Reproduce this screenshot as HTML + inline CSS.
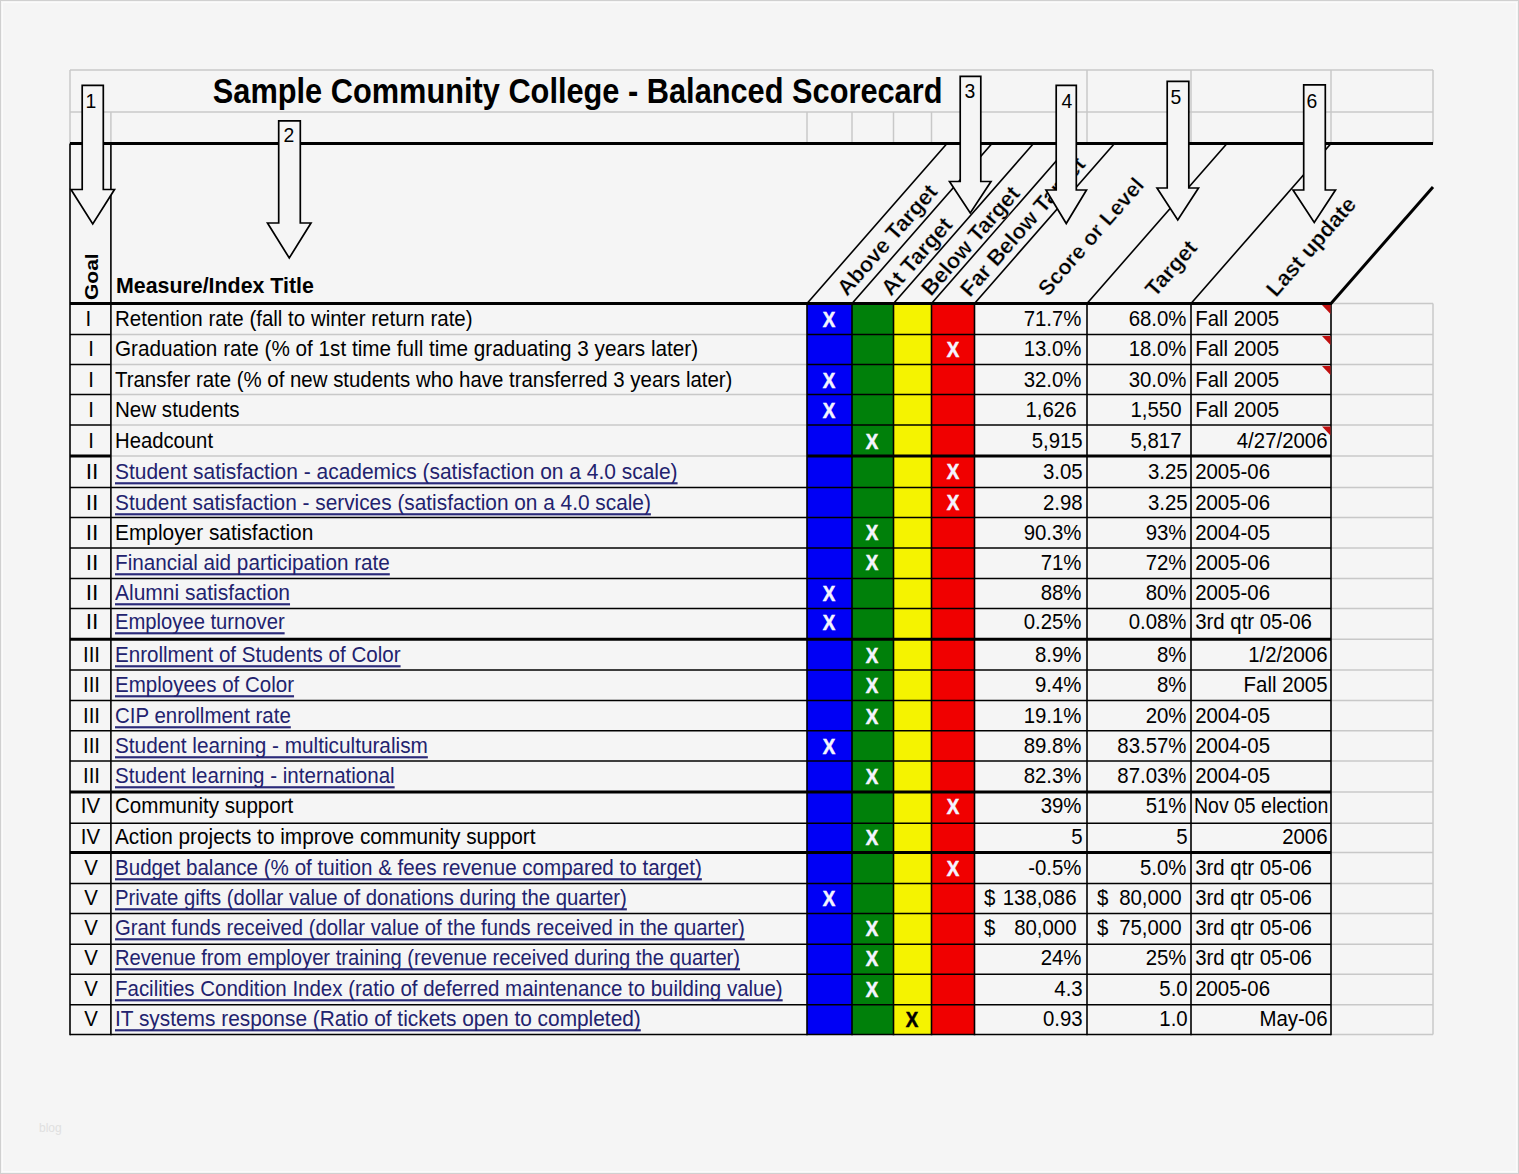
<!DOCTYPE html>
<html><head><meta charset="utf-8"><style>
html,body{margin:0;padding:0;}
body{width:1519px;height:1174px;background:#f5f5f5;position:relative;overflow:hidden;font-family:"Liberation Sans",sans-serif;}
.t{position:absolute;white-space:pre;line-height:normal;}
svg{position:absolute;left:0;top:0;}
.frame{position:absolute;left:0;top:0;width:1517px;height:1172px;border:1px solid #d0d0d0;}
.frame2{position:absolute;left:2px;top:2px;width:1513px;height:1168px;border:1px solid #fbfbfb;}
.wm{position:absolute;left:39px;top:1121px;font-size:12px;color:#e0e0e0;}
</style></head><body>
<div class="frame"></div><div class="frame2"></div>
<svg width="1519" height="1174" viewBox="0 0 1519 1174"><rect x="807" y="303.5" width="45" height="731.0" fill="#0000f5"/><rect x="852" y="303.5" width="41.5" height="731.0" fill="#00800a"/><rect x="893.5" y="303.5" width="38.0" height="731.0" fill="#f5f300"/><rect x="931.5" y="303.5" width="43.0" height="731.0" fill="#f00000"/><line x1="70" y1="70" x2="1433" y2="70" stroke="#c8c8c8" stroke-width="1.5"/><line x1="70" y1="112" x2="1433" y2="112" stroke="#c8c8c8" stroke-width="1.5"/><line x1="70" y1="70" x2="70" y2="143.5" stroke="#c8c8c8" stroke-width="1.5"/><line x1="110.9" y1="112" x2="110.9" y2="143.5" stroke="#c8c8c8" stroke-width="1.5"/><line x1="807" y1="112" x2="807" y2="143.5" stroke="#c8c8c8" stroke-width="1.5"/><line x1="852" y1="112" x2="852" y2="143.5" stroke="#c8c8c8" stroke-width="1.5"/><line x1="893.5" y1="112" x2="893.5" y2="143.5" stroke="#c8c8c8" stroke-width="1.5"/><line x1="931.5" y1="112" x2="931.5" y2="143.5" stroke="#c8c8c8" stroke-width="1.5"/><line x1="974.5" y1="112" x2="974.5" y2="143.5" stroke="#c8c8c8" stroke-width="1.5"/><line x1="1087" y1="70" x2="1087" y2="143.5" stroke="#c8c8c8" stroke-width="1.5"/><line x1="1191" y1="70" x2="1191" y2="143.5" stroke="#c8c8c8" stroke-width="1.5"/><line x1="1331" y1="70" x2="1331" y2="143.5" stroke="#c8c8c8" stroke-width="1.5"/><line x1="1433" y1="70" x2="1433" y2="143.5" stroke="#c8c8c8" stroke-width="1.5"/><line x1="1433" y1="303.5" x2="1433" y2="1034.5" stroke="#c8c8c8" stroke-width="1.5"/><line x1="1331" y1="303.5" x2="1433" y2="303.5" stroke="#c8c8c8" stroke-width="1.5"/><line x1="1331" y1="334.5" x2="1433" y2="334.5" stroke="#c8c8c8" stroke-width="1.5"/><line x1="1331" y1="364.5" x2="1433" y2="364.5" stroke="#c8c8c8" stroke-width="1.5"/><line x1="1331" y1="394.5" x2="1433" y2="394.5" stroke="#c8c8c8" stroke-width="1.5"/><line x1="1331" y1="425" x2="1433" y2="425" stroke="#c8c8c8" stroke-width="1.5"/><line x1="1331" y1="456" x2="1433" y2="456" stroke="#c8c8c8" stroke-width="1.5"/><line x1="1331" y1="487.5" x2="1433" y2="487.5" stroke="#c8c8c8" stroke-width="1.5"/><line x1="1331" y1="517.5" x2="1433" y2="517.5" stroke="#c8c8c8" stroke-width="1.5"/><line x1="1331" y1="548" x2="1433" y2="548" stroke="#c8c8c8" stroke-width="1.5"/><line x1="1331" y1="578.5" x2="1433" y2="578.5" stroke="#c8c8c8" stroke-width="1.5"/><line x1="1331" y1="608.5" x2="1433" y2="608.5" stroke="#c8c8c8" stroke-width="1.5"/><line x1="1331" y1="639.3" x2="1433" y2="639.3" stroke="#c8c8c8" stroke-width="1.5"/><line x1="1331" y1="670" x2="1433" y2="670" stroke="#c8c8c8" stroke-width="1.5"/><line x1="1331" y1="700.5" x2="1433" y2="700.5" stroke="#c8c8c8" stroke-width="1.5"/><line x1="1331" y1="730.8" x2="1433" y2="730.8" stroke="#c8c8c8" stroke-width="1.5"/><line x1="1331" y1="761" x2="1433" y2="761" stroke="#c8c8c8" stroke-width="1.5"/><line x1="1331" y1="792" x2="1433" y2="792" stroke="#c8c8c8" stroke-width="1.5"/><line x1="1331" y1="823.2" x2="1433" y2="823.2" stroke="#c8c8c8" stroke-width="1.5"/><line x1="1331" y1="852.5" x2="1433" y2="852.5" stroke="#c8c8c8" stroke-width="1.5"/><line x1="1331" y1="883.5" x2="1433" y2="883.5" stroke="#c8c8c8" stroke-width="1.5"/><line x1="1331" y1="913.5" x2="1433" y2="913.5" stroke="#c8c8c8" stroke-width="1.5"/><line x1="1331" y1="944.2" x2="1433" y2="944.2" stroke="#c8c8c8" stroke-width="1.5"/><line x1="1331" y1="974.3" x2="1433" y2="974.3" stroke="#c8c8c8" stroke-width="1.5"/><line x1="1331" y1="1004.7" x2="1433" y2="1004.7" stroke="#c8c8c8" stroke-width="1.5"/><line x1="1331" y1="1034.5" x2="1433" y2="1034.5" stroke="#c8c8c8" stroke-width="1.5"/><line x1="70" y1="334.5" x2="110.9" y2="334.5" stroke="#000" stroke-width="1.6"/><line x1="110.9" y1="334.5" x2="807" y2="334.5" stroke="#c8c8c8" stroke-width="1.5"/><line x1="807" y1="334.5" x2="1331" y2="334.5" stroke="#000" stroke-width="1.6"/><line x1="70" y1="364.5" x2="110.9" y2="364.5" stroke="#000" stroke-width="1.6"/><line x1="110.9" y1="364.5" x2="807" y2="364.5" stroke="#c8c8c8" stroke-width="1.5"/><line x1="807" y1="364.5" x2="1331" y2="364.5" stroke="#000" stroke-width="1.6"/><line x1="70" y1="394.5" x2="110.9" y2="394.5" stroke="#000" stroke-width="1.6"/><line x1="110.9" y1="394.5" x2="807" y2="394.5" stroke="#c8c8c8" stroke-width="1.5"/><line x1="807" y1="394.5" x2="1331" y2="394.5" stroke="#000" stroke-width="1.6"/><line x1="70" y1="425" x2="110.9" y2="425" stroke="#000" stroke-width="1.6"/><line x1="110.9" y1="425" x2="807" y2="425" stroke="#c8c8c8" stroke-width="1.5"/><line x1="807" y1="425" x2="1331" y2="425" stroke="#000" stroke-width="1.6"/><line x1="70" y1="456" x2="110.9" y2="456" stroke="#000" stroke-width="3"/><line x1="110.9" y1="456" x2="807" y2="456" stroke="#c8c8c8" stroke-width="1.5"/><line x1="807" y1="456" x2="1331" y2="456" stroke="#000" stroke-width="3"/><line x1="70" y1="487.5" x2="110.9" y2="487.5" stroke="#000" stroke-width="1.6"/><line x1="110.9" y1="487.5" x2="807" y2="487.5" stroke="#000" stroke-width="1.6"/><line x1="807" y1="487.5" x2="1331" y2="487.5" stroke="#000" stroke-width="1.6"/><line x1="70" y1="517.5" x2="110.9" y2="517.5" stroke="#000" stroke-width="1.6"/><line x1="110.9" y1="517.5" x2="807" y2="517.5" stroke="#000" stroke-width="1.6"/><line x1="807" y1="517.5" x2="1331" y2="517.5" stroke="#000" stroke-width="1.6"/><line x1="70" y1="548" x2="110.9" y2="548" stroke="#000" stroke-width="1.6"/><line x1="110.9" y1="548" x2="807" y2="548" stroke="#000" stroke-width="1.6"/><line x1="807" y1="548" x2="1331" y2="548" stroke="#000" stroke-width="1.6"/><line x1="70" y1="578.5" x2="110.9" y2="578.5" stroke="#000" stroke-width="1.6"/><line x1="110.9" y1="578.5" x2="807" y2="578.5" stroke="#000" stroke-width="1.6"/><line x1="807" y1="578.5" x2="1331" y2="578.5" stroke="#000" stroke-width="1.6"/><line x1="70" y1="608.5" x2="110.9" y2="608.5" stroke="#000" stroke-width="1.6"/><line x1="110.9" y1="608.5" x2="807" y2="608.5" stroke="#000" stroke-width="1.6"/><line x1="807" y1="608.5" x2="1331" y2="608.5" stroke="#000" stroke-width="1.6"/><line x1="70" y1="639.3" x2="110.9" y2="639.3" stroke="#000" stroke-width="3"/><line x1="110.9" y1="639.3" x2="807" y2="639.3" stroke="#000" stroke-width="3"/><line x1="807" y1="639.3" x2="1331" y2="639.3" stroke="#000" stroke-width="3"/><line x1="70" y1="670" x2="110.9" y2="670" stroke="#000" stroke-width="1.6"/><line x1="110.9" y1="670" x2="807" y2="670" stroke="#000" stroke-width="1.6"/><line x1="807" y1="670" x2="1331" y2="670" stroke="#000" stroke-width="1.6"/><line x1="70" y1="700.5" x2="110.9" y2="700.5" stroke="#000" stroke-width="1.6"/><line x1="110.9" y1="700.5" x2="807" y2="700.5" stroke="#000" stroke-width="1.6"/><line x1="807" y1="700.5" x2="1331" y2="700.5" stroke="#000" stroke-width="1.6"/><line x1="70" y1="730.8" x2="110.9" y2="730.8" stroke="#000" stroke-width="1.6"/><line x1="110.9" y1="730.8" x2="807" y2="730.8" stroke="#000" stroke-width="1.6"/><line x1="807" y1="730.8" x2="1331" y2="730.8" stroke="#000" stroke-width="1.6"/><line x1="70" y1="761" x2="110.9" y2="761" stroke="#000" stroke-width="1.6"/><line x1="110.9" y1="761" x2="807" y2="761" stroke="#000" stroke-width="1.6"/><line x1="807" y1="761" x2="1331" y2="761" stroke="#000" stroke-width="1.6"/><line x1="70" y1="792" x2="110.9" y2="792" stroke="#000" stroke-width="3"/><line x1="110.9" y1="792" x2="807" y2="792" stroke="#000" stroke-width="3"/><line x1="807" y1="792" x2="1331" y2="792" stroke="#000" stroke-width="3"/><line x1="70" y1="823.2" x2="110.9" y2="823.2" stroke="#000" stroke-width="1.6"/><line x1="110.9" y1="823.2" x2="807" y2="823.2" stroke="#000" stroke-width="1.6"/><line x1="807" y1="823.2" x2="1331" y2="823.2" stroke="#000" stroke-width="1.6"/><line x1="70" y1="852.5" x2="110.9" y2="852.5" stroke="#000" stroke-width="3"/><line x1="110.9" y1="852.5" x2="807" y2="852.5" stroke="#000" stroke-width="3"/><line x1="807" y1="852.5" x2="1331" y2="852.5" stroke="#000" stroke-width="3"/><line x1="70" y1="883.5" x2="110.9" y2="883.5" stroke="#000" stroke-width="1.6"/><line x1="110.9" y1="883.5" x2="807" y2="883.5" stroke="#000" stroke-width="1.6"/><line x1="807" y1="883.5" x2="1331" y2="883.5" stroke="#000" stroke-width="1.6"/><line x1="70" y1="913.5" x2="110.9" y2="913.5" stroke="#000" stroke-width="1.6"/><line x1="110.9" y1="913.5" x2="807" y2="913.5" stroke="#000" stroke-width="1.6"/><line x1="807" y1="913.5" x2="1331" y2="913.5" stroke="#000" stroke-width="1.6"/><line x1="70" y1="944.2" x2="110.9" y2="944.2" stroke="#000" stroke-width="1.6"/><line x1="110.9" y1="944.2" x2="807" y2="944.2" stroke="#000" stroke-width="1.6"/><line x1="807" y1="944.2" x2="1331" y2="944.2" stroke="#000" stroke-width="1.6"/><line x1="70" y1="974.3" x2="110.9" y2="974.3" stroke="#000" stroke-width="1.6"/><line x1="110.9" y1="974.3" x2="807" y2="974.3" stroke="#000" stroke-width="1.6"/><line x1="807" y1="974.3" x2="1331" y2="974.3" stroke="#000" stroke-width="1.6"/><line x1="70" y1="1004.7" x2="110.9" y2="1004.7" stroke="#000" stroke-width="1.6"/><line x1="110.9" y1="1004.7" x2="807" y2="1004.7" stroke="#000" stroke-width="1.6"/><line x1="807" y1="1004.7" x2="1331" y2="1004.7" stroke="#000" stroke-width="1.6"/><line x1="70" y1="1034.5" x2="110.9" y2="1034.5" stroke="#000" stroke-width="1.6"/><line x1="110.9" y1="1034.5" x2="807" y2="1034.5" stroke="#000" stroke-width="1.6"/><line x1="807" y1="1034.5" x2="1331" y2="1034.5" stroke="#000" stroke-width="1.6"/><line x1="70" y1="143.5" x2="70" y2="1035.3" stroke="#000" stroke-width="1.6"/><line x1="110.9" y1="143.5" x2="110.9" y2="1035.3" stroke="#000" stroke-width="1.6"/><line x1="807" y1="303.5" x2="807" y2="1035.3" stroke="#000" stroke-width="1.6"/><line x1="852" y1="303.5" x2="852" y2="1035.3" stroke="#000" stroke-width="1.6"/><line x1="893.5" y1="303.5" x2="893.5" y2="1035.3" stroke="#000" stroke-width="1.6"/><line x1="931.5" y1="303.5" x2="931.5" y2="1035.3" stroke="#000" stroke-width="1.6"/><line x1="974.5" y1="303.5" x2="974.5" y2="1035.3" stroke="#000" stroke-width="1.6"/><line x1="1087" y1="303.5" x2="1087" y2="1035.3" stroke="#000" stroke-width="1.6"/><line x1="1191" y1="303.5" x2="1191" y2="1035.3" stroke="#000" stroke-width="1.6"/><line x1="1331" y1="303.5" x2="1331" y2="1035.3" stroke="#000" stroke-width="1.6"/><line x1="70" y1="143.5" x2="1433" y2="143.5" stroke="#000" stroke-width="3"/><line x1="70" y1="303.5" x2="1332" y2="303.5" stroke="#000" stroke-width="3"/><line x1="807" y1="303.5" x2="947" y2="143.5" stroke="#000" stroke-width="1.6"/><line x1="852" y1="303.5" x2="992" y2="143.5" stroke="#000" stroke-width="1.6"/><line x1="893.5" y1="303.5" x2="1033.5" y2="143.5" stroke="#000" stroke-width="1.6"/><line x1="931.5" y1="303.5" x2="1071.5" y2="143.5" stroke="#000" stroke-width="1.6"/><line x1="974.5" y1="303.5" x2="1114.5" y2="143.5" stroke="#000" stroke-width="1.6"/><line x1="1087" y1="303.5" x2="1227" y2="143.5" stroke="#000" stroke-width="1.6"/><line x1="1191" y1="303.5" x2="1331" y2="143.5" stroke="#000" stroke-width="1.6"/><line x1="1331" y1="303.5" x2="1433" y2="186.92857142857144" stroke="#000" stroke-width="3"/><polygon points="1322,305.0 1330.5,305.0 1330.5,314.0" fill="#c01010"/><polygon points="1322,336.0 1330.5,336.0 1330.5,345.0" fill="#c01010"/><polygon points="1322,366.0 1330.5,366.0 1330.5,375.0" fill="#c01010"/><polygon points="1322,426.5 1330.5,426.5 1330.5,435.5" fill="#c01010"/></svg>
<div class="t" style="left:847px;top:277.09px;font-size:22px;font-weight:700;-webkit-text-stroke:0.3px #f5f5f5;transform-origin:0 19.91px;transform:rotate(-48.81deg)">Above Target</div><div class="t" style="left:891px;top:277.09px;font-size:22px;font-weight:700;-webkit-text-stroke:0.3px #f5f5f5;transform-origin:0 19.91px;transform:rotate(-48.81deg)">At Target</div><div class="t" style="left:930.5px;top:276.89px;font-size:22px;font-weight:700;-webkit-text-stroke:0.3px #f5f5f5;transform-origin:0 19.91px;transform:rotate(-48.81deg)">Below Target</div><div class="t" style="left:970px;top:277.89px;font-size:22px;font-weight:700;-webkit-text-stroke:0.3px #f5f5f5;transform-origin:0 19.91px;transform:rotate(-48.81deg)">Far Below Target</div><div class="t" style="left:1047.5px;top:278.04px;font-size:21.5px;font-weight:700;-webkit-text-stroke:0.3px #f5f5f5;transform-origin:0 19.46px;transform:rotate(-48.81deg)">Score or Level</div><div class="t" style="left:1154.6px;top:277.69px;font-size:22px;font-weight:700;-webkit-text-stroke:0.3px #f5f5f5;transform-origin:0 19.91px;transform:rotate(-48.81deg)">Target</div><div class="t" style="left:1275.8px;top:278.09px;font-size:22px;font-weight:700;-webkit-text-stroke:0.3px #f5f5f5;transform-origin:0 19.91px;transform:rotate(-48.81deg)">Last update</div><div class="t" style="left:82.3px;top:299.5px;font-size:20.4px;font-weight:700;transform-origin:0 0;transform:rotate(-90deg) scale(1.03,0.9)">Goal</div>
<svg width="1519" height="1174" viewBox="0 0 1519 1174"><polygon points="82.2,85.3 103.3,85.3 103.3,189.5 114.5,189.5 92.75,224.0 71.0,189.5 82.2,189.5" fill="#f5f5f5" stroke="#000" stroke-width="1.7" stroke-linejoin="miter"/><polygon points="278.7,120.8 300.3,120.8 300.3,223 311.0,223 289.25,258.0 267.5,223 278.7,223" fill="#f5f5f5" stroke="#000" stroke-width="1.7" stroke-linejoin="miter"/><polygon points="960.2,76.3 980.8,76.3 980.8,181.5 991.0,181.5 970.25,213.0 949.5,181.5 960.2,181.5" fill="#f5f5f5" stroke="#000" stroke-width="1.7" stroke-linejoin="miter"/><polygon points="1056.2,85.3 1076.3,85.3 1076.3,190 1086.5,190 1066.25,223.5 1046.0,190 1056.2,190" fill="#f5f5f5" stroke="#000" stroke-width="1.7" stroke-linejoin="miter"/><polygon points="1167.2,81.3 1188.8,81.3 1188.8,188 1198.5,188 1177.75,220.0 1157.0,188 1167.2,188" fill="#f5f5f5" stroke="#000" stroke-width="1.7" stroke-linejoin="miter"/><polygon points="1303.7,84.8 1325.3,84.8 1325.3,190 1335.5,190 1314.25,222.5 1293.0,190 1303.7,190" fill="#f5f5f5" stroke="#000" stroke-width="1.7" stroke-linejoin="miter"/></svg>
<div class="t" style="left:212.80px;top:75.37px;font-size:30.75px;font-weight:700;color:#000;transform-origin:0 27.83px;transform:scale(1.0000,1.12);">Sample Community College - Balanced Scorecard</div><div class="t" style="left:116.00px;top:273.92px;font-size:21.3px;font-weight:700;color:#000;transform-origin:0 19.28px;transform:scale(1.0030,1.03);">Measure/Index Title</div><div class="t" style="left:91.30px;top:89.54px;font-size:20.4px;font-weight:400;color:#000;transform-origin:50% 18.46px;transform:translateX(-50%) scale(0.9500,1.0);">1</div><div class="t" style="left:289.00px;top:124.04px;font-size:20.4px;font-weight:400;color:#000;transform-origin:50% 18.46px;transform:translateX(-50%) scale(0.9500,1.0);">2</div><div class="t" style="left:970.00px;top:80.04px;font-size:20.4px;font-weight:400;color:#000;transform-origin:50% 18.46px;transform:translateX(-50%) scale(0.9500,1.0);">3</div><div class="t" style="left:1067.30px;top:89.54px;font-size:20.4px;font-weight:400;color:#000;transform-origin:50% 18.46px;transform:translateX(-50%) scale(0.9500,1.0);">4</div><div class="t" style="left:1176.00px;top:85.54px;font-size:20.4px;font-weight:400;color:#000;transform-origin:50% 18.46px;transform:translateX(-50%) scale(0.9500,1.0);">5</div><div class="t" style="left:1312.30px;top:89.54px;font-size:20.4px;font-weight:400;color:#000;transform-origin:50% 18.46px;transform:translateX(-50%) scale(0.9500,1.0);">6</div><div class="t" style="left:88.30px;top:308.44px;font-size:20.4px;font-weight:400;color:#000;transform-origin:50% 18.46px;transform:translateX(-50%) scale(1.0000,1.08);">I</div><div class="t" style="left:115.00px;top:308.44px;font-size:20.4px;font-weight:400;color:#000;transform-origin:0 18.46px;transform:scale(1.0048,1.08);">Retention rate (fall to winter return rate)</div><div class="t" style="left:829.00px;top:309.24px;font-size:20.4px;font-weight:700;color:#f4f4ff;transform-origin:50% 18.46px;transform:translateX(-50%) scale(0.9200,1.11);-webkit-text-stroke:0.5px currentColor;">X</div><div class="t" style="right:437.50px;top:308.44px;font-size:20.4px;font-weight:400;color:#000;transform-origin:50% 18.46px;transform:scale(1.0000,1.08);">71.7%</div><div class="t" style="right:332.50px;top:308.44px;font-size:20.4px;font-weight:400;color:#000;transform-origin:50% 18.46px;transform:scale(1.0000,1.08);">68.0%</div><div class="t" style="left:1195.20px;top:308.44px;font-size:20.4px;font-weight:400;color:#000;transform-origin:0 18.46px;transform:scale(1.0000,1.08);">Fall 2005</div><div class="t" style="left:91.00px;top:338.34px;font-size:20.4px;font-weight:400;color:#000;transform-origin:50% 18.46px;transform:translateX(-50%) scale(1.0000,1.08);">I</div><div class="t" style="left:115.00px;top:338.34px;font-size:20.4px;font-weight:400;color:#000;transform-origin:0 18.46px;transform:scale(1.0148,1.08);">Graduation rate (% of 1st time full time graduating 3 years later)</div><div class="t" style="left:952.50px;top:339.14px;font-size:20.4px;font-weight:700;color:#f4f4ff;transform-origin:50% 18.46px;transform:translateX(-50%) scale(0.9200,1.11);-webkit-text-stroke:0.5px currentColor;">X</div><div class="t" style="right:437.50px;top:338.34px;font-size:20.4px;font-weight:400;color:#000;transform-origin:50% 18.46px;transform:scale(1.0000,1.08);">13.0%</div><div class="t" style="right:332.50px;top:338.34px;font-size:20.4px;font-weight:400;color:#000;transform-origin:50% 18.46px;transform:scale(1.0000,1.08);">18.0%</div><div class="t" style="left:1195.20px;top:338.34px;font-size:20.4px;font-weight:400;color:#000;transform-origin:0 18.46px;transform:scale(1.0000,1.08);">Fall 2005</div><div class="t" style="left:91.00px;top:369.14px;font-size:20.4px;font-weight:400;color:#000;transform-origin:50% 18.46px;transform:translateX(-50%) scale(1.0000,1.08);">I</div><div class="t" style="left:115.00px;top:369.14px;font-size:20.4px;font-weight:400;color:#000;transform-origin:0 18.46px;transform:scale(1.0008,1.08);">Transfer rate (% of new students who have transferred 3 years later)</div><div class="t" style="left:829.00px;top:369.94px;font-size:20.4px;font-weight:700;color:#f4f4ff;transform-origin:50% 18.46px;transform:translateX(-50%) scale(0.9200,1.11);-webkit-text-stroke:0.5px currentColor;">X</div><div class="t" style="right:437.50px;top:369.14px;font-size:20.4px;font-weight:400;color:#000;transform-origin:50% 18.46px;transform:scale(1.0000,1.08);">32.0%</div><div class="t" style="right:332.50px;top:369.14px;font-size:20.4px;font-weight:400;color:#000;transform-origin:50% 18.46px;transform:scale(1.0000,1.08);">30.0%</div><div class="t" style="left:1195.20px;top:369.14px;font-size:20.4px;font-weight:400;color:#000;transform-origin:0 18.46px;transform:scale(1.0000,1.08);">Fall 2005</div><div class="t" style="left:91.00px;top:399.04px;font-size:20.4px;font-weight:400;color:#000;transform-origin:50% 18.46px;transform:translateX(-50%) scale(1.0000,1.08);">I</div><div class="t" style="left:115.00px;top:399.04px;font-size:20.4px;font-weight:400;color:#000;transform-origin:0 18.46px;transform:scale(1.0089,1.08);">New students</div><div class="t" style="left:829.00px;top:399.84px;font-size:20.4px;font-weight:700;color:#f4f4ff;transform-origin:50% 18.46px;transform:translateX(-50%) scale(0.9200,1.11);-webkit-text-stroke:0.5px currentColor;">X</div><div class="t" style="right:442.50px;top:399.04px;font-size:20.4px;font-weight:400;color:#000;transform-origin:50% 18.46px;transform:scale(1.0000,1.08);">1,626</div><div class="t" style="right:337.50px;top:399.04px;font-size:20.4px;font-weight:400;color:#000;transform-origin:50% 18.46px;transform:scale(1.0000,1.08);">1,550</div><div class="t" style="left:1195.20px;top:399.04px;font-size:20.4px;font-weight:400;color:#000;transform-origin:0 18.46px;transform:scale(1.0000,1.08);">Fall 2005</div><div class="t" style="left:91.00px;top:429.74px;font-size:20.4px;font-weight:400;color:#000;transform-origin:50% 18.46px;transform:translateX(-50%) scale(1.0000,1.08);">I</div><div class="t" style="left:115.00px;top:429.74px;font-size:20.4px;font-weight:400;color:#000;transform-origin:0 18.46px;transform:scale(0.9939,1.08);">Headcount</div><div class="t" style="left:872.25px;top:430.54px;font-size:20.4px;font-weight:700;color:#f4f4ff;transform-origin:50% 18.46px;transform:translateX(-50%) scale(0.9200,1.11);-webkit-text-stroke:0.5px currentColor;">X</div><div class="t" style="right:436.30px;top:429.74px;font-size:20.4px;font-weight:400;color:#000;transform-origin:50% 18.46px;transform:scale(1.0000,1.08);">5,915</div><div class="t" style="right:337.50px;top:429.74px;font-size:20.4px;font-weight:400;color:#000;transform-origin:50% 18.46px;transform:scale(1.0000,1.08);">5,817</div><div class="t" style="right:191.50px;top:429.74px;font-size:20.4px;font-weight:400;color:#000;transform-origin:50% 18.46px;transform:scale(1.0000,1.08);">4/27/2006</div><div class="t" style="left:92.30px;top:460.54px;font-size:20.4px;font-weight:400;color:#000;transform-origin:50% 18.46px;transform:translateX(-50%) scale(1.1200,1.08);">II</div><div class="t" style="left:115.00px;top:460.54px;font-size:20.4px;font-weight:400;color:#22226e;transform-origin:0 18.46px;transform:scale(1.0277,1.08);text-decoration:underline;text-underline-offset:3px;text-decoration-thickness:1.7px;text-decoration-skip-ink:none;text-decoration-color:#2b2b7a;">Student satisfaction - academics (satisfaction on a 4.0 scale)</div><div class="t" style="left:952.50px;top:461.34px;font-size:20.4px;font-weight:700;color:#f4f4ff;transform-origin:50% 18.46px;transform:translateX(-50%) scale(0.9200,1.11);-webkit-text-stroke:0.5px currentColor;">X</div><div class="t" style="right:436.30px;top:460.54px;font-size:20.4px;font-weight:400;color:#000;transform-origin:50% 18.46px;transform:scale(1.0000,1.08);">3.05</div><div class="t" style="right:331.30px;top:460.54px;font-size:20.4px;font-weight:400;color:#000;transform-origin:50% 18.46px;transform:scale(1.0000,1.08);">3.25</div><div class="t" style="left:1195.20px;top:460.54px;font-size:20.4px;font-weight:400;color:#000;transform-origin:0 18.46px;transform:scale(1.0000,1.08);">2005-06</div><div class="t" style="left:92.30px;top:491.64px;font-size:20.4px;font-weight:400;color:#000;transform-origin:50% 18.46px;transform:translateX(-50%) scale(1.1200,1.08);">II</div><div class="t" style="left:115.00px;top:491.64px;font-size:20.4px;font-weight:400;color:#22226e;transform-origin:0 18.46px;transform:scale(1.0212,1.08);text-decoration:underline;text-underline-offset:3px;text-decoration-thickness:1.7px;text-decoration-skip-ink:none;text-decoration-color:#2b2b7a;">Student satisfaction - services (satisfaction on a 4.0 scale)</div><div class="t" style="left:952.50px;top:492.44px;font-size:20.4px;font-weight:700;color:#f4f4ff;transform-origin:50% 18.46px;transform:translateX(-50%) scale(0.9200,1.11);-webkit-text-stroke:0.5px currentColor;">X</div><div class="t" style="right:436.30px;top:491.64px;font-size:20.4px;font-weight:400;color:#000;transform-origin:50% 18.46px;transform:scale(1.0000,1.08);">2.98</div><div class="t" style="right:331.30px;top:491.64px;font-size:20.4px;font-weight:400;color:#000;transform-origin:50% 18.46px;transform:scale(1.0000,1.08);">3.25</div><div class="t" style="left:1195.20px;top:491.64px;font-size:20.4px;font-weight:400;color:#000;transform-origin:0 18.46px;transform:scale(1.0000,1.08);">2005-06</div><div class="t" style="left:92.30px;top:521.64px;font-size:20.4px;font-weight:400;color:#000;transform-origin:50% 18.46px;transform:translateX(-50%) scale(1.1200,1.08);">II</div><div class="t" style="left:115.00px;top:521.64px;font-size:20.4px;font-weight:400;color:#000;transform-origin:0 18.46px;transform:scale(1.0233,1.08);">Employer satisfaction</div><div class="t" style="left:872.25px;top:522.44px;font-size:20.4px;font-weight:700;color:#f4f4ff;transform-origin:50% 18.46px;transform:translateX(-50%) scale(0.9200,1.11);-webkit-text-stroke:0.5px currentColor;">X</div><div class="t" style="right:437.50px;top:521.64px;font-size:20.4px;font-weight:400;color:#000;transform-origin:50% 18.46px;transform:scale(1.0000,1.08);">90.3%</div><div class="t" style="right:332.50px;top:521.64px;font-size:20.4px;font-weight:400;color:#000;transform-origin:50% 18.46px;transform:scale(1.0000,1.08);">93%</div><div class="t" style="left:1195.20px;top:521.64px;font-size:20.4px;font-weight:400;color:#000;transform-origin:0 18.46px;transform:scale(1.0000,1.08);">2004-05</div><div class="t" style="left:92.30px;top:551.54px;font-size:20.4px;font-weight:400;color:#000;transform-origin:50% 18.46px;transform:translateX(-50%) scale(1.1200,1.08);">II</div><div class="t" style="left:115.00px;top:551.54px;font-size:20.4px;font-weight:400;color:#22226e;transform-origin:0 18.46px;transform:scale(1.0144,1.08);text-decoration:underline;text-underline-offset:3px;text-decoration-thickness:1.7px;text-decoration-skip-ink:none;text-decoration-color:#2b2b7a;">Financial aid participation rate</div><div class="t" style="left:872.25px;top:552.34px;font-size:20.4px;font-weight:700;color:#f4f4ff;transform-origin:50% 18.46px;transform:translateX(-50%) scale(0.9200,1.11);-webkit-text-stroke:0.5px currentColor;">X</div><div class="t" style="right:437.50px;top:551.54px;font-size:20.4px;font-weight:400;color:#000;transform-origin:50% 18.46px;transform:scale(1.0000,1.08);">71%</div><div class="t" style="right:332.50px;top:551.54px;font-size:20.4px;font-weight:400;color:#000;transform-origin:50% 18.46px;transform:scale(1.0000,1.08);">72%</div><div class="t" style="left:1195.20px;top:551.54px;font-size:20.4px;font-weight:400;color:#000;transform-origin:0 18.46px;transform:scale(1.0000,1.08);">2005-06</div><div class="t" style="left:92.30px;top:582.24px;font-size:20.4px;font-weight:400;color:#000;transform-origin:50% 18.46px;transform:translateX(-50%) scale(1.1200,1.08);">II</div><div class="t" style="left:115.00px;top:582.24px;font-size:20.4px;font-weight:400;color:#22226e;transform-origin:0 18.46px;transform:scale(1.0296,1.08);text-decoration:underline;text-underline-offset:3px;text-decoration-thickness:1.7px;text-decoration-skip-ink:none;text-decoration-color:#2b2b7a;">Alumni satisfaction</div><div class="t" style="left:829.00px;top:583.04px;font-size:20.4px;font-weight:700;color:#f4f4ff;transform-origin:50% 18.46px;transform:translateX(-50%) scale(0.9200,1.11);-webkit-text-stroke:0.5px currentColor;">X</div><div class="t" style="right:437.50px;top:582.24px;font-size:20.4px;font-weight:400;color:#000;transform-origin:50% 18.46px;transform:scale(1.0000,1.08);">88%</div><div class="t" style="right:332.50px;top:582.24px;font-size:20.4px;font-weight:400;color:#000;transform-origin:50% 18.46px;transform:scale(1.0000,1.08);">80%</div><div class="t" style="left:1195.20px;top:582.24px;font-size:20.4px;font-weight:400;color:#000;transform-origin:0 18.46px;transform:scale(1.0000,1.08);">2005-06</div><div class="t" style="left:92.30px;top:611.44px;font-size:20.4px;font-weight:400;color:#000;transform-origin:50% 18.46px;transform:translateX(-50%) scale(1.1200,1.08);">II</div><div class="t" style="left:115.00px;top:611.44px;font-size:20.4px;font-weight:400;color:#22226e;transform-origin:0 18.46px;transform:scale(0.9912,1.08);text-decoration:underline;text-underline-offset:3px;text-decoration-thickness:1.7px;text-decoration-skip-ink:none;text-decoration-color:#2b2b7a;">Employee turnover</div><div class="t" style="left:829.00px;top:612.24px;font-size:20.4px;font-weight:700;color:#f4f4ff;transform-origin:50% 18.46px;transform:translateX(-50%) scale(0.9200,1.11);-webkit-text-stroke:0.5px currentColor;">X</div><div class="t" style="right:437.50px;top:611.44px;font-size:20.4px;font-weight:400;color:#000;transform-origin:50% 18.46px;transform:scale(1.0000,1.08);">0.25%</div><div class="t" style="right:332.50px;top:611.44px;font-size:20.4px;font-weight:400;color:#000;transform-origin:50% 18.46px;transform:scale(1.0000,1.08);">0.08%</div><div class="t" style="left:1195.20px;top:611.44px;font-size:20.4px;font-weight:400;color:#000;transform-origin:0 18.46px;transform:scale(1.0000,1.08);">3rd qtr 05-06</div><div class="t" style="left:91.50px;top:643.74px;font-size:20.4px;font-weight:400;color:#000;transform-origin:50% 18.46px;transform:translateX(-50%) scale(1.0000,1.08);">III</div><div class="t" style="left:115.00px;top:643.74px;font-size:20.4px;font-weight:400;color:#22226e;transform-origin:0 18.46px;transform:scale(1.0078,1.08);text-decoration:underline;text-underline-offset:3px;text-decoration-thickness:1.7px;text-decoration-skip-ink:none;text-decoration-color:#2b2b7a;">Enrollment of Students of Color</div><div class="t" style="left:872.25px;top:644.54px;font-size:20.4px;font-weight:700;color:#f4f4ff;transform-origin:50% 18.46px;transform:translateX(-50%) scale(0.9200,1.11);-webkit-text-stroke:0.5px currentColor;">X</div><div class="t" style="right:437.50px;top:643.74px;font-size:20.4px;font-weight:400;color:#000;transform-origin:50% 18.46px;transform:scale(1.0000,1.08);">8.9%</div><div class="t" style="right:332.50px;top:643.74px;font-size:20.4px;font-weight:400;color:#000;transform-origin:50% 18.46px;transform:scale(1.0000,1.08);">8%</div><div class="t" style="right:191.50px;top:643.74px;font-size:20.4px;font-weight:400;color:#000;transform-origin:50% 18.46px;transform:scale(1.0000,1.08);">1/2/2006</div><div class="t" style="left:91.50px;top:674.14px;font-size:20.4px;font-weight:400;color:#000;transform-origin:50% 18.46px;transform:translateX(-50%) scale(1.0000,1.08);">III</div><div class="t" style="left:115.00px;top:674.14px;font-size:20.4px;font-weight:400;color:#22226e;transform-origin:0 18.46px;transform:scale(1.0062,1.08);text-decoration:underline;text-underline-offset:3px;text-decoration-thickness:1.7px;text-decoration-skip-ink:none;text-decoration-color:#2b2b7a;">Employees of Color</div><div class="t" style="left:872.25px;top:674.94px;font-size:20.4px;font-weight:700;color:#f4f4ff;transform-origin:50% 18.46px;transform:translateX(-50%) scale(0.9200,1.11);-webkit-text-stroke:0.5px currentColor;">X</div><div class="t" style="right:437.50px;top:674.14px;font-size:20.4px;font-weight:400;color:#000;transform-origin:50% 18.46px;transform:scale(1.0000,1.08);">9.4%</div><div class="t" style="right:332.50px;top:674.14px;font-size:20.4px;font-weight:400;color:#000;transform-origin:50% 18.46px;transform:scale(1.0000,1.08);">8%</div><div class="t" style="right:191.50px;top:674.14px;font-size:20.4px;font-weight:400;color:#000;transform-origin:50% 18.46px;transform:scale(1.0000,1.08);">Fall 2005</div><div class="t" style="left:91.50px;top:704.84px;font-size:20.4px;font-weight:400;color:#000;transform-origin:50% 18.46px;transform:translateX(-50%) scale(1.0000,1.08);">III</div><div class="t" style="left:115.00px;top:704.84px;font-size:20.4px;font-weight:400;color:#22226e;transform-origin:0 18.46px;transform:scale(1.0029,1.08);text-decoration:underline;text-underline-offset:3px;text-decoration-thickness:1.7px;text-decoration-skip-ink:none;text-decoration-color:#2b2b7a;">CIP enrollment rate</div><div class="t" style="left:872.25px;top:705.64px;font-size:20.4px;font-weight:700;color:#f4f4ff;transform-origin:50% 18.46px;transform:translateX(-50%) scale(0.9200,1.11);-webkit-text-stroke:0.5px currentColor;">X</div><div class="t" style="right:437.50px;top:704.84px;font-size:20.4px;font-weight:400;color:#000;transform-origin:50% 18.46px;transform:scale(1.0000,1.08);">19.1%</div><div class="t" style="right:332.50px;top:704.84px;font-size:20.4px;font-weight:400;color:#000;transform-origin:50% 18.46px;transform:scale(1.0000,1.08);">20%</div><div class="t" style="left:1195.20px;top:704.84px;font-size:20.4px;font-weight:400;color:#000;transform-origin:0 18.46px;transform:scale(1.0000,1.08);">2004-05</div><div class="t" style="left:91.50px;top:734.74px;font-size:20.4px;font-weight:400;color:#000;transform-origin:50% 18.46px;transform:translateX(-50%) scale(1.0000,1.08);">III</div><div class="t" style="left:115.00px;top:734.74px;font-size:20.4px;font-weight:400;color:#22226e;transform-origin:0 18.46px;transform:scale(1.0186,1.08);text-decoration:underline;text-underline-offset:3px;text-decoration-thickness:1.7px;text-decoration-skip-ink:none;text-decoration-color:#2b2b7a;">Student learning - multiculturalism</div><div class="t" style="left:829.00px;top:735.54px;font-size:20.4px;font-weight:700;color:#f4f4ff;transform-origin:50% 18.46px;transform:translateX(-50%) scale(0.9200,1.11);-webkit-text-stroke:0.5px currentColor;">X</div><div class="t" style="right:437.50px;top:734.74px;font-size:20.4px;font-weight:400;color:#000;transform-origin:50% 18.46px;transform:scale(1.0000,1.08);">89.8%</div><div class="t" style="right:332.50px;top:734.74px;font-size:20.4px;font-weight:400;color:#000;transform-origin:50% 18.46px;transform:scale(1.0000,1.08);">83.57%</div><div class="t" style="left:1195.20px;top:734.74px;font-size:20.4px;font-weight:400;color:#000;transform-origin:0 18.46px;transform:scale(1.0000,1.08);">2004-05</div><div class="t" style="left:91.50px;top:764.74px;font-size:20.4px;font-weight:400;color:#000;transform-origin:50% 18.46px;transform:translateX(-50%) scale(1.0000,1.08);">III</div><div class="t" style="left:115.00px;top:764.74px;font-size:20.4px;font-weight:400;color:#22226e;transform-origin:0 18.46px;transform:scale(1.0069,1.08);text-decoration:underline;text-underline-offset:3px;text-decoration-thickness:1.7px;text-decoration-skip-ink:none;text-decoration-color:#2b2b7a;">Student learning - international</div><div class="t" style="left:872.25px;top:765.54px;font-size:20.4px;font-weight:700;color:#f4f4ff;transform-origin:50% 18.46px;transform:translateX(-50%) scale(0.9200,1.11);-webkit-text-stroke:0.5px currentColor;">X</div><div class="t" style="right:437.50px;top:764.74px;font-size:20.4px;font-weight:400;color:#000;transform-origin:50% 18.46px;transform:scale(1.0000,1.08);">82.3%</div><div class="t" style="right:332.50px;top:764.74px;font-size:20.4px;font-weight:400;color:#000;transform-origin:50% 18.46px;transform:scale(1.0000,1.08);">87.03%</div><div class="t" style="left:1195.20px;top:764.74px;font-size:20.4px;font-weight:400;color:#000;transform-origin:0 18.46px;transform:scale(1.0000,1.08);">2004-05</div><div class="t" style="left:90.50px;top:795.44px;font-size:20.4px;font-weight:400;color:#000;transform-origin:50% 18.46px;transform:translateX(-50%) scale(1.0000,1.08);">IV</div><div class="t" style="left:115.00px;top:795.44px;font-size:20.4px;font-weight:400;color:#000;transform-origin:0 18.46px;transform:scale(1.0085,1.08);">Community support</div><div class="t" style="left:952.50px;top:796.24px;font-size:20.4px;font-weight:700;color:#f4f4ff;transform-origin:50% 18.46px;transform:translateX(-50%) scale(0.9200,1.11);-webkit-text-stroke:0.5px currentColor;">X</div><div class="t" style="right:437.50px;top:795.44px;font-size:20.4px;font-weight:400;color:#000;transform-origin:50% 18.46px;transform:scale(1.0000,1.08);">39%</div><div class="t" style="right:332.50px;top:795.44px;font-size:20.4px;font-weight:400;color:#000;transform-origin:50% 18.46px;transform:scale(1.0000,1.08);">51%</div><div class="t" style="left:1194.30px;top:795.44px;font-size:20.4px;font-weight:400;color:#000;transform-origin:0 18.46px;transform:scale(0.9550,1.08);">Nov 05 election</div><div class="t" style="left:90.50px;top:826.24px;font-size:20.4px;font-weight:400;color:#000;transform-origin:50% 18.46px;transform:translateX(-50%) scale(1.0000,1.08);">IV</div><div class="t" style="left:115.00px;top:826.24px;font-size:20.4px;font-weight:400;color:#000;transform-origin:0 18.46px;transform:scale(1.0194,1.08);">Action projects to improve community support</div><div class="t" style="left:872.25px;top:827.04px;font-size:20.4px;font-weight:700;color:#f4f4ff;transform-origin:50% 18.46px;transform:translateX(-50%) scale(0.9200,1.11);-webkit-text-stroke:0.5px currentColor;">X</div><div class="t" style="right:436.30px;top:826.24px;font-size:20.4px;font-weight:400;color:#000;transform-origin:50% 18.46px;transform:scale(1.0000,1.08);">5</div><div class="t" style="right:331.30px;top:826.24px;font-size:20.4px;font-weight:400;color:#000;transform-origin:50% 18.46px;transform:scale(1.0000,1.08);">5</div><div class="t" style="right:191.50px;top:826.24px;font-size:20.4px;font-weight:400;color:#000;transform-origin:50% 18.46px;transform:scale(1.0000,1.08);">2006</div><div class="t" style="left:91.00px;top:857.44px;font-size:20.4px;font-weight:400;color:#000;transform-origin:50% 18.46px;transform:translateX(-50%) scale(1.0000,1.08);">V</div><div class="t" style="left:115.00px;top:857.44px;font-size:20.4px;font-weight:400;color:#22226e;transform-origin:0 18.46px;transform:scale(1.0093,1.08);text-decoration:underline;text-underline-offset:3px;text-decoration-thickness:1.7px;text-decoration-skip-ink:none;text-decoration-color:#2b2b7a;">Budget balance (% of tuition &amp; fees revenue compared to target)</div><div class="t" style="left:952.50px;top:858.24px;font-size:20.4px;font-weight:700;color:#f4f4ff;transform-origin:50% 18.46px;transform:translateX(-50%) scale(0.9200,1.11);-webkit-text-stroke:0.5px currentColor;">X</div><div class="t" style="right:437.50px;top:857.44px;font-size:20.4px;font-weight:400;color:#000;transform-origin:50% 18.46px;transform:scale(1.0000,1.08);">-0.5%</div><div class="t" style="right:332.50px;top:857.44px;font-size:20.4px;font-weight:400;color:#000;transform-origin:50% 18.46px;transform:scale(1.0000,1.08);">5.0%</div><div class="t" style="left:1195.20px;top:857.44px;font-size:20.4px;font-weight:400;color:#000;transform-origin:0 18.46px;transform:scale(1.0000,1.08);">3rd qtr 05-06</div><div class="t" style="left:91.00px;top:887.34px;font-size:20.4px;font-weight:400;color:#000;transform-origin:50% 18.46px;transform:translateX(-50%) scale(1.0000,1.08);">V</div><div class="t" style="left:115.00px;top:887.34px;font-size:20.4px;font-weight:400;color:#22226e;transform-origin:0 18.46px;transform:scale(0.9969,1.08);text-decoration:underline;text-underline-offset:3px;text-decoration-thickness:1.7px;text-decoration-skip-ink:none;text-decoration-color:#2b2b7a;">Private gifts (dollar value of donations during the quarter)</div><div class="t" style="left:829.00px;top:888.14px;font-size:20.4px;font-weight:700;color:#f4f4ff;transform-origin:50% 18.46px;transform:translateX(-50%) scale(0.9200,1.11);-webkit-text-stroke:0.5px currentColor;">X</div><div class="t" style="left:984.00px;top:887.34px;font-size:20.4px;font-weight:400;color:#000;transform-origin:0 18.46px;transform:scale(1.0000,1.08);">$</div><div class="t" style="right:442.50px;top:887.34px;font-size:20.4px;font-weight:400;color:#000;transform-origin:50% 18.46px;transform:scale(1.0000,1.08);">138,086</div><div class="t" style="left:1097.00px;top:887.34px;font-size:20.4px;font-weight:400;color:#000;transform-origin:0 18.46px;transform:scale(1.0000,1.08);">$</div><div class="t" style="right:337.50px;top:887.34px;font-size:20.4px;font-weight:400;color:#000;transform-origin:50% 18.46px;transform:scale(1.0000,1.08);">80,000</div><div class="t" style="left:1195.20px;top:887.34px;font-size:20.4px;font-weight:400;color:#000;transform-origin:0 18.46px;transform:scale(1.0000,1.08);">3rd qtr 05-06</div><div class="t" style="left:91.00px;top:917.24px;font-size:20.4px;font-weight:400;color:#000;transform-origin:50% 18.46px;transform:translateX(-50%) scale(1.0000,1.08);">V</div><div class="t" style="left:115.00px;top:917.24px;font-size:20.4px;font-weight:400;color:#22226e;transform-origin:0 18.46px;transform:scale(0.9938,1.08);text-decoration:underline;text-underline-offset:3px;text-decoration-thickness:1.7px;text-decoration-skip-ink:none;text-decoration-color:#2b2b7a;">Grant funds received (dollar value of the funds received in the quarter)</div><div class="t" style="left:872.25px;top:918.04px;font-size:20.4px;font-weight:700;color:#f4f4ff;transform-origin:50% 18.46px;transform:translateX(-50%) scale(0.9200,1.11);-webkit-text-stroke:0.5px currentColor;">X</div><div class="t" style="left:984.00px;top:917.24px;font-size:20.4px;font-weight:400;color:#000;transform-origin:0 18.46px;transform:scale(1.0000,1.08);">$</div><div class="t" style="right:442.50px;top:917.24px;font-size:20.4px;font-weight:400;color:#000;transform-origin:50% 18.46px;transform:scale(1.0000,1.08);">80,000</div><div class="t" style="left:1097.00px;top:917.24px;font-size:20.4px;font-weight:400;color:#000;transform-origin:0 18.46px;transform:scale(1.0000,1.08);">$</div><div class="t" style="right:337.50px;top:917.24px;font-size:20.4px;font-weight:400;color:#000;transform-origin:50% 18.46px;transform:scale(1.0000,1.08);">75,000</div><div class="t" style="left:1195.20px;top:917.24px;font-size:20.4px;font-weight:400;color:#000;transform-origin:0 18.46px;transform:scale(1.0000,1.08);">3rd qtr 05-06</div><div class="t" style="left:91.00px;top:947.14px;font-size:20.4px;font-weight:400;color:#000;transform-origin:50% 18.46px;transform:translateX(-50%) scale(1.0000,1.08);">V</div><div class="t" style="left:115.00px;top:947.14px;font-size:20.4px;font-weight:400;color:#22226e;transform-origin:0 18.46px;transform:scale(0.9883,1.08);text-decoration:underline;text-underline-offset:3px;text-decoration-thickness:1.7px;text-decoration-skip-ink:none;text-decoration-color:#2b2b7a;">Revenue from employer training (revenue received during the quarter)</div><div class="t" style="left:872.25px;top:947.94px;font-size:20.4px;font-weight:700;color:#f4f4ff;transform-origin:50% 18.46px;transform:translateX(-50%) scale(0.9200,1.11);-webkit-text-stroke:0.5px currentColor;">X</div><div class="t" style="right:437.50px;top:947.14px;font-size:20.4px;font-weight:400;color:#000;transform-origin:50% 18.46px;transform:scale(1.0000,1.08);">24%</div><div class="t" style="right:332.50px;top:947.14px;font-size:20.4px;font-weight:400;color:#000;transform-origin:50% 18.46px;transform:scale(1.0000,1.08);">25%</div><div class="t" style="left:1195.20px;top:947.14px;font-size:20.4px;font-weight:400;color:#000;transform-origin:0 18.46px;transform:scale(1.0000,1.08);">3rd qtr 05-06</div><div class="t" style="left:91.00px;top:977.84px;font-size:20.4px;font-weight:400;color:#000;transform-origin:50% 18.46px;transform:translateX(-50%) scale(1.0000,1.08);">V</div><div class="t" style="left:115.00px;top:977.84px;font-size:20.4px;font-weight:400;color:#22226e;transform-origin:0 18.46px;transform:scale(1.0035,1.08);text-decoration:underline;text-underline-offset:3px;text-decoration-thickness:1.7px;text-decoration-skip-ink:none;text-decoration-color:#2b2b7a;">Facilities Condition Index (ratio of deferred maintenance to building value)</div><div class="t" style="left:872.25px;top:978.64px;font-size:20.4px;font-weight:700;color:#f4f4ff;transform-origin:50% 18.46px;transform:translateX(-50%) scale(0.9200,1.11);-webkit-text-stroke:0.5px currentColor;">X</div><div class="t" style="right:436.30px;top:977.84px;font-size:20.4px;font-weight:400;color:#000;transform-origin:50% 18.46px;transform:scale(1.0000,1.08);">4.3</div><div class="t" style="right:331.30px;top:977.84px;font-size:20.4px;font-weight:400;color:#000;transform-origin:50% 18.46px;transform:scale(1.0000,1.08);">5.0</div><div class="t" style="left:1195.20px;top:977.84px;font-size:20.4px;font-weight:400;color:#000;transform-origin:0 18.46px;transform:scale(1.0000,1.08);">2005-06</div><div class="t" style="left:91.00px;top:1007.74px;font-size:20.4px;font-weight:400;color:#000;transform-origin:50% 18.46px;transform:translateX(-50%) scale(1.0000,1.08);">V</div><div class="t" style="left:115.00px;top:1007.74px;font-size:20.4px;font-weight:400;color:#22226e;transform-origin:0 18.46px;transform:scale(1.0226,1.08);text-decoration:underline;text-underline-offset:3px;text-decoration-thickness:1.7px;text-decoration-skip-ink:none;text-decoration-color:#2b2b7a;">IT systems response (Ratio of tickets open to completed)</div><div class="t" style="left:912.00px;top:1008.54px;font-size:20.4px;font-weight:700;color:#000;transform-origin:50% 18.46px;transform:translateX(-50%) scale(0.9200,1.11);-webkit-text-stroke:0.5px currentColor;">X</div><div class="t" style="right:436.30px;top:1007.74px;font-size:20.4px;font-weight:400;color:#000;transform-origin:50% 18.46px;transform:scale(1.0000,1.08);">0.93</div><div class="t" style="right:331.30px;top:1007.74px;font-size:20.4px;font-weight:400;color:#000;transform-origin:50% 18.46px;transform:scale(1.0000,1.08);">1.0</div><div class="t" style="right:191.50px;top:1007.74px;font-size:20.4px;font-weight:400;color:#000;transform-origin:50% 18.46px;transform:scale(1.0000,1.08);">May-06</div>
<div class="wm">blog</div>
</body></html>
